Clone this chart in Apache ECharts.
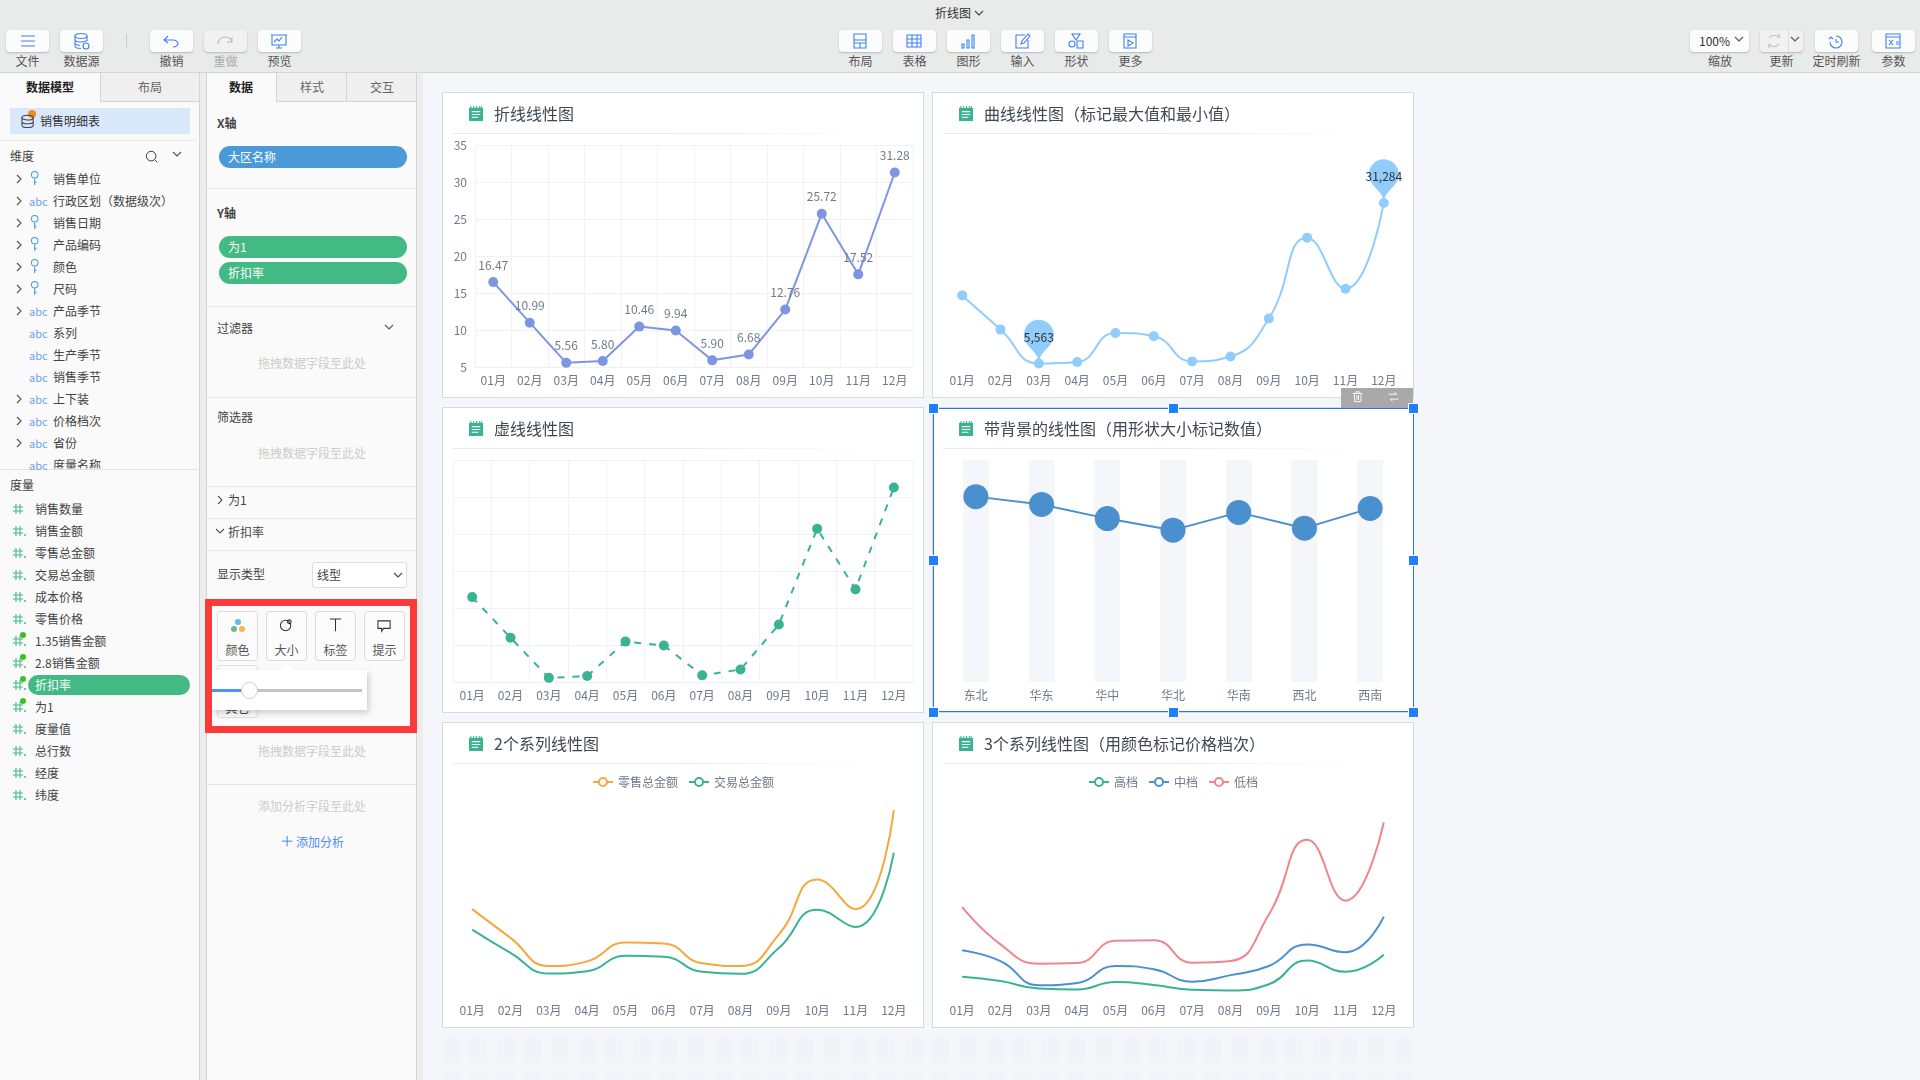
<!DOCTYPE html>
<html>
<head>
<meta charset="utf-8">
<title>折线图</title>
<script src="https://cdn.jsdelivr.net/npm/echarts@6/dist/echarts.min.js"></script>
<style>
    html, body { margin: 0; padding: 0; width: 1920px; height: 1080px; overflow: hidden; background: #f4f6fa;
        font-family: "Noto Sans CJK SC", "Noto Sans", sans-serif; font-size: 12px; color: #555; }
    .box { position: absolute; box-sizing: border-box; }
    .t { position: absolute; white-space: nowrap; line-height: 16px; height: 16px; transform: translateY(-8px); }
    .c { transform: translate(-50%, -8px); }
    .btn { background: #fcfcfc; border-radius: 4px; box-shadow: 0 1px 2px rgba(0, 0, 0, .22); }
    .pill { border-radius: 11px; color: #fff; }
    .panel { background: #fff; border: 1px solid #d6d9e0; }
    .chart { position: absolute; left: 0; top: 0; width: 100%; height: 100%; }
    svg { position: absolute; overflow: visible; }
</style>
</head>
<body>
<div id="ui"></div>
<script>
    var months = ['01月', '02月', '03月', '04月', '05月', '06月', '07月', '08月', '09月', '10月', '11月', '12月'];
    var regions = ['东北', '华东', '华中', '华北', '华南', '西北', '西南'];

    //values
    var discountRate = [16.47, 10.99, 5.56, 5.80, 10.46, 9.94, 5.90, 6.68, 12.76, 25.72, 17.52, 31.28];
    var curveValues = [16470, 10990, 5563, 5800, 10460, 9940, 5900, 6680, 12760, 25720, 17520, 31284];
    var regionValues = [0.835, 0.80, 0.736, 0.684, 0.764, 0.693, 0.782];
    var retailTotal = [26.9, 18.1, 9.5, 10.9, 16.7, 16.4, 10.3, 9.5, 19.1, 36, 26.9, 57.2];
    var tradeTotal = [20.6, 13.5, 7.2, 7.9, 12.6, 12.3, 7.7, 7.1, 15, 26.7, 21.4, 44.2];
    var highTier = [6.2, 4.9, 2.6, 2.3, 4.6, 3.7, 2.2, 2, 3.9, 11.2, 7.7, 12.9];
    var midTier = [14.3, 11, 3.6, 4.3, 9.5, 8.5, 4.7, 6.7, 9.5, 16.1, 13.7, 24.6];
    var lowTier = [27.5, 16.1, 10.2, 10.4, 17.2, 17.4, 10.5, 11, 25.2, 48.1, 29.5, 53.4];

    var dimensions = [['销售单位', 1, 'key'], ['行政区划（数据级次）', 1, 'abc'], ['销售日期', 1, 'key'], ['产品编码', 1, 'key'],
        ['颜色', 1, 'key'], ['尺码', 1, 'key'], ['产品季节', 1, 'abc'], ['系列', 0, 'abc'], ['生产季节', 0, 'abc'], ['销售季节', 0, 'abc'],
        ['上下装', 1, 'abc'], ['价格档次', 1, 'abc'], ['省份', 1, 'abc'], ['度量名称', 0, 'abc']];
    var measures = ['销售数量', '销售金额', '零售总金额', '交易总金额', '成本价格', '零售价格', '1.35销售金额', '2.8销售金额', '折扣率', '为1', '度量值', '总行数', '经度', '纬度'];
    var markedMeasures = ['1.35销售金额', '2.8销售金额', '折扣率', '为1'];

    var BLUE = '#3d80f2';
    var ICONS = {
        file: '<path d="M2 3h14M2 8h14M2 13h14"/>',
        source: '<ellipse cx="8" cy="3" rx="6" ry="2.5"/><path d="M2 3v10c0 1.500 3 2.500 6 2.500M14 3v5M2 6.500c0 1.500 3 2.500 6 2.500s6-1 6-2.500M2 10c0 1.500 3 2.500 5 2.500"/><circle cx="13" cy="13" r="3"/>',
        undo: '<path d="M5 3L1 7l4 3M1 7h9c3 0 5 2 5 3.500S13 14 10 14"/>',
        redo: '<path d="M1 11C1 6 5 4 8 4s6 1 7 5M15 4v5h-5"/>',
        preview: '<path d="M1 2h14v10H1zM0 2h16M5 15h6M8 12v3M3 9l3-3 2 2 3-4"/>',
        layout: '<path d="M2 1h12v14H2zM2 7h12M2 10h12M8 10v5"/>',
        table: '<path d="M1 2h14v12H1zM1 6h14M1 10h14M6 2v12M11 2v12"/>',
        bar: '<path d="M2 15v-4h2v4zM7 15V7h2v8zM12 15V2h2v13z"/>',
        input: '<path d="M2 2h9M2 2v13h12V7M14 1l-6 7-1 3 3-1 6-7z"/>',
        shape: '<path d="M4 1h8L8 7zM1 11a3 3 0 1 0 6 0a3 3 0 1 0-6 0M9 8h6v7H9z"/>',
        more: '<path d="M2 1h12v14H2zM2 4h12M6 7l5 3-5 3z"/>',
        refresh: '<path d="M13 5A6 6 0 0 0 3 5M3 11a6 6 0 0 0 10 0M13 1v4M3 15v-4"/>',
        timer: '<path d="M8 3a6 6 0 1 1-6 6M8 6v3h3M1 6l2-2 2 2"/>',
        param: '<path d="M1 1h14v14H1zM1 4h14M4 7l4 5M8 7l-4 5M11 9h3M11 11h3"/>'
    };

    var ui = document.getElementById('ui');

    function box(x, y, w, h, css, cls) {
        var el = document.createElement('div');
        el.className = 'box ' + (cls || '');
        el.style.cssText = 'left:' + x + 'px;top:' + y + 'px;width:' + w + 'px;height:' + h + 'px;' + (css || '');
        ui.appendChild(el);
        return el;
    }

    function text(s, x, y, css, center) {
        var el = document.createElement('div');
        el.className = 't' + (center ? ' c' : '');
        el.textContent = s;
        el.style.cssText = 'left:' + x + 'px;top:' + y + 'px;' + (css || '');
        ui.appendChild(el);
        return el;
    }

    function svg(body, x, y, size, color, vb, extra) {
        var s = '<svg xmlns="http://www.w3.org/2000/svg" style="left:' + x + 'px;top:' + y + 'px;z-index:6" width="' + size + '" height="' + size +
            '" viewBox="0 0 ' + (vb || 16) + ' ' + (vb || 16) + '" fill="none" stroke="' + color + '" stroke-width="1.100" ' + (extra || '') + '>' + body + '</svg>';
        var wrap = document.createElement('div');
        wrap.innerHTML = s;
        ui.appendChild(wrap.firstChild);
    }

    function chevron(x, y, down, color) {
        var p = down ? 'M0 0l4 4 4-4' : 'M0 0l4 4-4 4';
        svg('<path d="' + p + '"/>', x, y, 8, color || '#555', 8);
    }

    //Top toolbar
    function makeToolbar() {
        box(0, 0, 1920, 73, 'background:#e9eaea;border-bottom:1px solid #d4d4d4');
        text('折线图', 935, 13, 'color:#333');
        chevron(975, 11, true, '#444');
        var tools = [['文件', 6, 'file'], ['数据源', 60, 'source'], ['撤销', 150, 'undo'], ['重做', 204, 'redo'], ['预览', 258, 'preview'],
            ['布局', 839, 'layout'], ['表格', 893, 'table'], ['图形', 947, 'bar'], ['输入', 1001, 'input'], ['形状', 1055, 'shape'], ['更多', 1109, 'more'],
            ['更新', 1760, 'refresh'], ['定时刷新', 1815, 'timer'], ['参数', 1872, 'param']];
        tools.forEach(function (tool) {
            var off = tool[0] === '重做' || tool[0] === '更新';
            var iconX = tool[0] === '更新' ? tool[1] + 6 : tool[1] + 13;
            box(tool[1], 30, 43, 22, off ? 'background:#f1f1f1' : '', 'btn');
            svg(ICONS[tool[2]], iconX, 33, 16, off ? '#bbb' : BLUE);
            text(tool[0], tool[1] + 21.5, 61, off && tool[0] === '重做' ? 'color:#aaa' : '', true);
        });
        box(126, 34, 1, 13, 'background:#ccc');
        box(1690, 30, 59, 22, '', 'btn');
        text('100%', 1699, 41, 'color:#333');
        chevron(1735, 37, true, '#555');
        text('缩放', 1720, 61, '', true);
        box(1788, 30, 1, 22, 'background:#ddd');
        chevron(1791, 37, true, '#555');
    }

    //Left panels of the designer
    function makeDataPanel() {
        box(0, 73, 423, 1007, 'background:#ededed');
        box(0, 73, 200, 1007, 'background:#fafafa;border-right:1px solid #d4d4d4');
        box(100, 73, 100, 29, 'background:#efefef;border:1px solid #d4d4d4;border-top:0');
        text('数据模型', 50, 87, 'color:#222;font-weight:700', true);
        text('布局', 150, 87, 'color:#666', true);
        box(10, 108, 180, 26, 'background:#d9e8fb');
        svg('<ellipse cx="7" cy="5" rx="6" ry="2.500"/><path d="M1 5v8c0 1.500 3 2.500 6 2.500s6-1 6-2.500V5M1 9c0 1.500 3 2.500 6 2.500s6-1 6-2.500"/>', 21, 113, 15, '#444');
        box(28, 110, 8, 8, 'background:#f08a24;border-radius:50%');
        text('销售明细表', 40, 120.5, 'color:#333');
        box(0, 140, 200, 1, 'background:#ececec');
        text('维度', 10, 156, 'color:#444');
        svg('<circle cx="7" cy="7" r="5.500"/><path d="M11 11l3 3"/>', 145, 150, 14, '#333');
        chevron(173, 152, true, '#555');

        box(0, 469, 200, 1, 'background:#e3e3e3');
        dimensions.forEach(function (dim, i) {
            var y = 179.4 + i * 22;
            if (dim[1]) {
                chevron(17, y - 4, false, '#555');
            }
            if (dim[2] === 'abc') {
                text('abc', 29, y, 'color:#6ba4f2;font-size:11px');
            } else {
                svg('<circle cx="5" cy="4" r="3.500"/><path d="M5 8v7M5 12h2" stroke="#2f9be0"/>', 30, y - 8, 15, '#3aa0e8');
            }
            text(dim[0], 53, y, 'color:#444' + (y > 455 ? ';clip-path:inset(0 0 5px 0)' : ''));
        });

        text('度量', 10, 484.5, 'color:#444');
        measures.forEach(function (name, i) {
            var y = 508.5 + i * 22;
            var marked = markedMeasures.indexOf(name) >= 0;
            svg('<path d="M3 0v10M7 0v10M0 3h10M0 7h10"/>' + (i > 0 ? '<path d="M11 9h2" stroke-width="1.500"/>' : ''), 13, y - 5, 10, '#43b984', 10);
            if (marked) {
                box(20, y - 9, 6, 6, 'background:#3cc21e;border-radius:50%;z-index:7');
            }
            if (name === '折扣率') {
                box(28, y - 10, 162, 20, 'background:#43b984;border-radius:10px');
                text(name, 35, y, 'color:#fff');
            } else {
                text(name, 35, y, 'color:#444');
            }
        });
    }

    function makeFieldPanel() {
        box(206, 73, 211, 1007, 'background:#fafafa;border-left:1px solid #d4d4d4;border-right:1px solid #d4d4d4');
        box(276, 73, 71, 29, 'background:#efefef;border:1px solid #d4d4d4;border-top:0');
        box(347, 73, 70, 29, 'background:#efefef;border:1px solid #d4d4d4;border-top:0;border-left:0');
        text('数据', 241, 87, 'color:#222;font-weight:700', true);
        text('样式', 312, 87, 'color:#666', true);
        text('交互', 382, 87, 'color:#666', true);

        text('X轴', 217, 122.6, 'color:#444;font-weight:700');
        box(219, 146, 188, 22, 'background:#4a9ad9', 'pill');
        text('大区名称', 228, 157, 'color:#fff');
        text('Y轴', 217, 212.8, 'color:#444;font-weight:700');
        box(219, 236, 188, 22, 'background:#43b984', 'pill');
        text('为1', 228, 247, 'color:#fff');
        box(219, 262, 188, 22, 'background:#43b984', 'pill');
        text('折扣率', 228, 273, 'color:#fff');
        [188, 306, 396.7, 485.5, 517.5, 549.8, 783.6].forEach(function (y) {
            box(207, y, 209, 1, 'background:#e6e6e6');
        });
        text('过滤器', 217, 327.5, 'color:#444');
        chevron(385, 325, true, '#555');
        text('拖拽数据字段至此处', 312, 363, 'color:#ccc', true);
        text('筛选器', 217, 417.4, 'color:#444');
        text('拖拽数据字段至此处', 312, 452.8, 'color:#ccc', true);
        chevron(218, 496, false, '#555');
        text('为1', 228, 500.3, 'color:#444');
        chevron(216, 529, true, '#555');
        text('折扣率', 228, 532, 'color:#444');
        text('显示类型', 217, 574.3, 'color:#444');
        box(312, 562, 95, 26, 'background:#fff;border:1px solid #ddd;border-radius:3px');
        text('线型', 317, 575, 'color:#444');
        chevron(394, 573, true, '#444');

        box(205, 599, 212, 134, 'border:7px solid #fc3a3a;z-index:2');
        var marks = [['颜色', 217], ['大小', 266], ['标签', 315], ['提示', 364]];
        marks.forEach(function (m) {
            box(m[1], 611, 41, 50, 'background:#fbfbfb;border:1px solid #ddd;border-radius:3px');
            text(m[0], m[1] + 20.5, 650, 'color:#555', true);
        });
        box(235, 619, 6, 6, 'background:#6cb6f5;border-radius:50%');
        box(231, 626, 6, 6, 'background:#6cb98a;border-radius:50%');
        box(239, 626, 6, 6, 'background:#f5b64b;border-radius:50%');
        svg('<circle cx="7" cy="8" r="5.500"/><circle cx="11" cy="4" r="2"/>', 279, 618, 15, '#333');
        svg('<path d="M2 1h12M8 1v13"/>', 328, 618, 15, '#333');
        svg('<path d="M1 2h13v8H7l-2 3v-3H1z"/>', 377, 619, 15, '#333');

        box(217, 665, 41, 53, 'background:#fbfbfb;border:1px solid #ddd;border-radius:3px');
        text('其它', 237.500, 708, 'color:#444', true);
        box(212, 670, 155, 40, 'background:#fff;box-shadow:2px 3px 6px rgba(0,0,0,.18);z-index:1');
        box(282, 665, 9, 9, 'background:#fff;transform:rotate(45deg);z-index:1');
        box(212, 689, 150, 2.500, 'background:#c4c4c4;z-index:1');
        box(212, 689, 30, 2.500, 'background:#4a96f5;z-index:1');
        box(241, 682, 17, 17, 'background:#fff;border:1px solid #cfcfcf;border-radius:50%;z-index:1');

        text('拖拽数据字段至此处', 312, 751, 'color:#ccc', true);
        text('添加分析字段至此处', 312, 805.8, 'color:#ccc', true);
        svg('<path d="M1 7h12M7 1v12"/>', 281, 835, 14, '#3d80f2');
        text('添加分析', 296, 842.4, 'color:#4d8df5');
    }

    //faint tiles under the canvas
    function makeTiles() {
        var css = 'background:repeating-linear-gradient(90deg,#f1f3f8 0,#f1f3f8 17px,transparent 17px,transparent 27.2px);';
        box(443, 1038, 971, 25, css);
        box(443, 1073, 971, 7, css);
    }

    function makePanel(x, y) {
        var panel = box(x, y, 482, 306, '', 'panel');
        var holder = document.createElement('div');
        holder.className = 'chart';
        panel.appendChild(holder);
        box(x + 11, y + 41, 420, 1, 'background:linear-gradient(90deg,#e8eaed,#e8eaed 50%,#fff)');
        svg('<path d="M0 2h15v14H0z" fill="#3ab395" stroke="none"/><path d="M2 0v3M5 0v3M8 0v3M11 0v3M13 0v3" stroke="#3ab395"/><path d="M3 6h9M3 9h9M3 12h7" stroke="#fff" stroke-width="1.200"/>',
            x + 27, y + 14, 15, '#3ab395');
        return holder;
    }

    function makeTitle(s) {
        return { text: s, left: 51, top: 11, padding: 0, textStyle: { color: '#3f4854', fontSize: 16, fontWeight: 'normal',
            fontFamily: 'Noto Sans CJK SC', lineHeight: 20 } };
    }

    function monthAxis(gridLines, data) {
        return {
            type: 'category',
            data: data || months,
            axisTick: { show: false },
            axisLine: { show: gridLines, lineStyle: { color: '#eef0f3' } },
            axisLabel: { color: '#6f7b8b', fontSize: 12, margin: 7, fontFamily: 'Noto Sans CJK SC', interval: 0 },
            splitLine: { show: gridLines, lineStyle: { color: '#f1f2f5' } }
        };
    }

    function valueAxis(min, max, interval, showLabel) {
        return {
            type: 'value', min: min, max: max, interval: interval,
            axisLine: { show: false }, axisTick: { show: false },
            axisLabel: { show: !!showLabel, color: '#6f7b8b', fontSize: 12, margin: 8, padding: [0, 0, 3, 0], fontFamily: 'Noto Sans CJK SC' },
            splitLine: { show: showLabel !== null, lineStyle: { color: '#f1f2f5' } }
        };
    }

    function legendOf(names) {
        return { data: names, top: 48, left: 'center', itemWidth: 20, itemHeight: 10, itemGap: 10,
            textStyle: { color: '#6f7b8b', fontSize: 12, fontFamily: 'Noto Sans CJK SC' } };
    }

    function smoothSeries(name, values, color) {
        return { name: name, type: 'line', data: values, smooth: true, symbol: 'emptyCircle', symbolSize: 10, showSymbol: false,
            lineStyle: { color: color, width: 2 }, itemStyle: { color: color, borderColor: color } };
    }

    function draw(x, y, option) {
        var chart = echarts.init(makePanel(x, y));
        option.animation = false;
        chart.setOption(option);
    }

    function drawCharts() {
        var COL1 = 442, COL2 = 932, ROW1 = 92, ROW2 = 407, ROW3 = 722;

        draw(COL1, ROW1, {
            title: makeTitle('折线线性图'),
            grid: { left: 32, right: 10, top: 52, bottom: 30 },
            xAxis: monthAxis(true),
            yAxis: valueAxis(5, 35, 5, true),
            series: [{
                type: 'line', data: discountRate, symbol: 'circle', symbolSize: 10,
                lineStyle: { color: '#7c96e2', width: 2 }, itemStyle: { color: '#7c96e2' },
                label: { show: true, position: 'top', distance: 6, color: '#6f7b8b', fontSize: 12, fontFamily: 'Noto Sans CJK SC',
                    formatter: function (p) { return p.value.toFixed(2); } }
            }]
        });

        draw(COL2, ROW1, {
            title: makeTitle('曲线线性图（标记最大值和最小值）'),
            grid: { left: 10, right: 10, top: 55.5, bottom: 30 },
            xAxis: monthAxis(false),
            yAxis: valueAxis(5000, 40000, 5000, null),
            series: [{
                type: 'line', data: curveValues, smooth: true, symbol: 'circle', symbolSize: 10,
                lineStyle: { color: '#90cdfc', width: 2 }, itemStyle: { color: '#90cdfc' },
                markPoint: {
                    symbol: 'pin', symbolSize: 50,
                    data: [{ type: 'max' }, { type: 'min' }],
                    itemStyle: { color: '#90cdfc' },
                    label: { color: '#333', fontSize: 12, fontFamily: 'Noto Sans CJK SC',
                        formatter: function (p) { return p.value.toLocaleString('en-US'); } }
                }
            }]
        });

        draw(COL1, ROW2, {
            title: makeTitle('虚线线性图'),
            grid: { left: 10, right: 10, top: 52, bottom: 30 },
            xAxis: monthAxis(true),
            yAxis: valueAxis(5, 35, 5, false),
            series: [{
                type: 'line', data: discountRate, symbol: 'circle', symbolSize: 10,
                lineStyle: { color: '#3ab395', width: 2, type: [7, 8] }, itemStyle: { color: '#3ab395' }
            }]
        });

        draw(COL2, ROW2, {
            title: makeTitle('带背景的线性图（用形状大小标记数值）'),
            grid: { left: 10, right: 10, top: 52, bottom: 30 },
            xAxis: monthAxis(false, regions),
            yAxis: valueAxis(0, 1, 0.2, null),
            series: [{
                type: 'bar', data: regionValues, barWidth: 26, showBackground: true,
                backgroundStyle: { color: '#f4f6fa' }, itemStyle: { color: 'transparent' }, silent: true
            }, {
                type: 'line', data: regionValues, symbol: 'circle', symbolSize: 25,
                lineStyle: { color: '#4a90ce', width: 2 }, itemStyle: { color: '#4a90ce' }
            }]
        });

        draw(COL1, ROW3, {
            title: makeTitle('2个系列线性图'),
            legend: legendOf(['零售总金额', '交易总金额']),
            grid: { left: 10, right: 10, top: 78, bottom: 30 },
            xAxis: monthAxis(false),
            yAxis: valueAxis(0, 60, 10, null),
            series: [smoothSeries('零售总金额', retailTotal, '#f5a83c'), smoothSeries('交易总金额', tradeTotal, '#3ab395')]
        });

        draw(COL2, ROW3, {
            title: makeTitle('3个系列线性图（用颜色标记价格档次）'),
            legend: legendOf(['高档', '中档', '低档']),
            grid: { left: 10, right: 10, top: 78, bottom: 30 },
            xAxis: monthAxis(false),
            yAxis: valueAxis(0, 60, 10, null),
            series: [smoothSeries('高档', highTier, '#3ab395'), smoothSeries('中档', midTier, '#4a90d2'), smoothSeries('低档', lowTier, '#f2848c')]
        });
    }

    //Selection frame of the fourth widget
    function makeSelection() {
        box(1341, 388, 72, 20, 'background:#a9a9a9;z-index:4');
        svg('<path d="M1 3h12M5 3V1h4v2M3 3v10h8V3M6 5v6M8 5v6"/>', 1352, 391, 13, '#fff');
        svg('<path d="M2 4h10l-3-3M14 10H4l3 3"/>', 1387, 391, 13, '#fff');
        box(933, 408, 480.5, 304, 'border:1.500px solid #2a75de;z-index:5;pointer-events:none');
        [[933, 408], [1173, 408], [1413, 408], [933, 560], [1413, 560], [933, 712], [1173, 712], [1413, 712]].forEach(function (p) {
            box(p[0] - 4.5, p[1] - 4.5, 9, 9, 'background:#1f80ff;outline:1px solid #fff;z-index:7');
        });
    }

    makeToolbar();
    makeDataPanel();
    makeFieldPanel();
    makeTiles();
    drawCharts();
    makeSelection();
</script>
</body>
</html>
